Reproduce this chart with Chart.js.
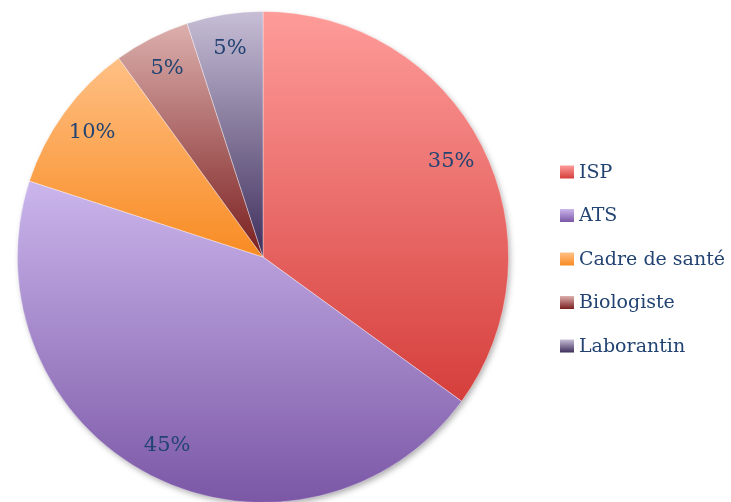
<!DOCTYPE html>
<html>
<head>
<meta charset="utf-8">
<script src="https://cdn.jsdelivr.net/npm/chart.js@4/dist/chart.umd.min.js"></script>
<style>
  html, body { margin: 0; padding: 0; background: #fff; overflow: hidden; }
  #wrap { width: 731px; height: 520px; position: relative; }
</style>
</head>
<body>
<div id="wrap"><canvas id="pie"></canvas></div>
<script>
'use strict';
const categories = ['ISP', 'ATS', 'Cadre de santé', 'Biologiste', 'Laborantin'];
const values = [35, 45, 10, 5, 5];
const labels = ['35%', '45%', '10%', '5%', '5%'];

// light (top) and dark (bottom) shade of each slice
const topColors = ['#FE9C9A', '#CBB6EC', '#FFC085', '#DCB0AE', '#C7BED6'];
const bottomColors = ['#D53E3B', '#7B57A6', '#F88B22', '#7A1E1E', '#3E2E5C'];

const textColor = '#234472';
const fontFamily = '"DejaVu Serif", "Liberation Serif", serif';

// angles of every slice, 0 = 12 o'clock, clockwise
function sliceAngles(i) {
  const total = values.reduce((a, b) => a + b, 0);
  let start = 0;
  for (let k = 0; k < i; k++) start += values[k] / total * Math.PI * 2;
  const end = start + values[i] / total * Math.PI * 2;
  return [start, end];
}

function sliceGradient(context) {
  const chart = context.chart;
  const area = chart.chartArea;
  if (!area) return topColors[context.dataIndex];
  const i = context.dataIndex;
  const cx = (area.left + area.right) / 2;
  const cy = (area.top + area.bottom) / 2;
  const r = Math.min(area.right - area.left, area.bottom - area.top) / 2;
  const [a0, a1] = sliceAngles(i);
  let ys = [cy, cy - r * Math.cos(a0), cy - r * Math.cos(a1)];
  if (a0 <= 0 && a1 >= 0) ys.push(cy - r);
  if (a0 <= Math.PI && a1 >= Math.PI) ys.push(cy + r);
  let top = Math.min(...ys), bottom = Math.max(...ys);
  const g = chart.ctx.createLinearGradient(0, top, 0, bottom);
  g.addColorStop(0, topColors[i]);
  g.addColorStop(1, bottomColors[i]);
  return g;
}

// soft shadow under the disc
const shadowPlugin = {
  id: 'discShadow',
  beforeDatasetsDraw(chart) {
    const arc = chart.getDatasetMeta(0).data[0];
    if (!arc) return;
    const ctx = chart.ctx;
    ctx.save();
    ctx.shadowColor = 'rgba(0,0,0,0.35)';
    ctx.shadowBlur = 6;
    ctx.shadowOffsetX = 2;
    ctx.shadowOffsetY = 3;
    ctx.fillStyle = '#ffffff';
    ctx.beginPath();
    ctx.arc(arc.x, arc.y, arc.outerRadius - 1, 0, Math.PI * 2);
    ctx.fill();
    ctx.restore();
  }
};

// percent labels inside the slices and the legend on the right
const labelPlugin = {
  id: 'sliceLabels',
  afterDatasetsDraw(chart) {
    const ctx = chart.ctx;
    const meta = chart.getDatasetMeta(0);
    ctx.save();
    ctx.fillStyle = textColor;
    ctx.font = '21px ' + fontFamily;
    ctx.textAlign = 'center';
    ctx.textBaseline = 'middle';
    meta.data.forEach((arc, i) => {
      const mid = (arc.startAngle + arc.endAngle) / 2;
      const d = arc.outerRadius * 0.86;
      ctx.fillText(labels[i], arc.x + Math.cos(mid) * d, arc.y + Math.sin(mid) * d);
    });

    // legend
    const lx = 560, ly = 172, step = 43.5, box = 13;
    ctx.textAlign = 'left';
    ctx.font = '19px ' + fontFamily;
    categories.forEach((name, i) => {
      const y = ly + i * step;
      const g = ctx.createLinearGradient(0, y - box / 2, 0, y + box / 2);
      g.addColorStop(0, topColors[i]);
      g.addColorStop(1, bottomColors[i]);
      ctx.fillStyle = g;
      ctx.fillRect(lx, y - box / 2, 14, box);
      ctx.fillStyle = textColor;
      ctx.fillText(name, lx + 19, y + 1);
    });
    ctx.restore();
  }
};

new Chart(document.getElementById('pie'), {
  type: 'pie',
  data: {
    labels: categories,
    datasets: [{
      data: values,
      backgroundColor: sliceGradient,
      borderColor: 'rgba(255,255,255,0.45)',
      borderWidth: 0.8
    }]
  },
  options: {
    responsive: true,
    maintainAspectRatio: false,
    animation: false,
    layout: { padding: { left: 17, right: 222, top: 11, bottom: 17 } },
    plugins: {
      legend: { display: false },
      tooltip: { enabled: false }
    }
  },
  plugins: [shadowPlugin, labelPlugin]
});
</script>
</body>
</html>
